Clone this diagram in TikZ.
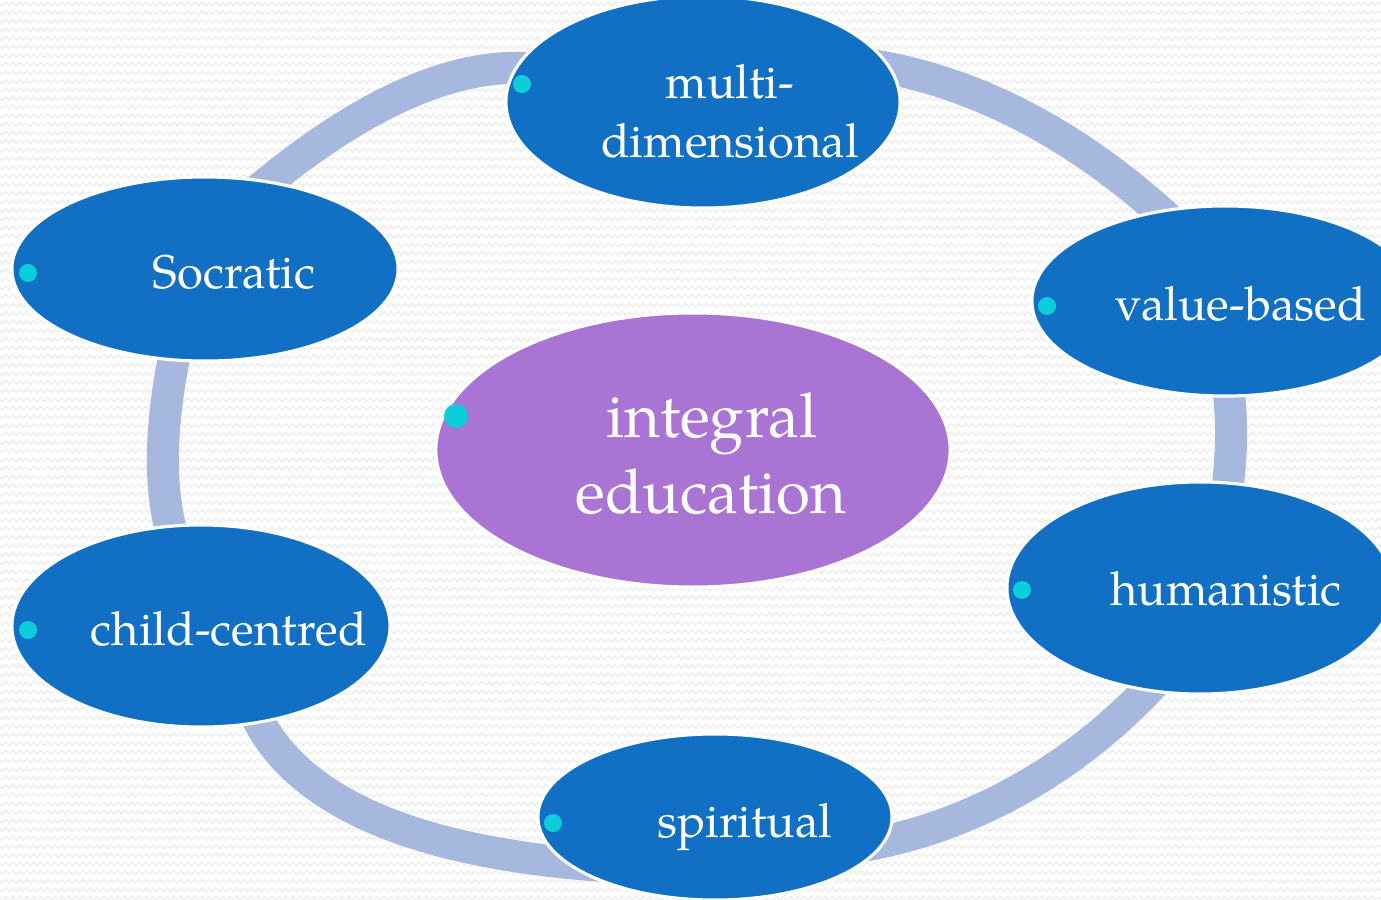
\documentclass[tikz,border=0pt]{standalone}
\usepackage{fontspec}
\setmainfont{TeX Gyre Pagella}
\usetikzlibrary{shapes.geometric,decorations.pathmorphing}
\definecolor{ringc}{HTML}{A7B8DE}
\definecolor{nodeblue}{HTML}{1170C4}
\definecolor{nodepurple}{HTML}{A974D4}
\definecolor{bulletc}{HTML}{0CCDD9}
\definecolor{bgline}{HTML}{EFEFEF}
% quadratic arc: A(#1,#2) Q(#3,#4) B(#5,#6), parameter from #7 to #8
\newcommand{\ringarc}[8]{%
  \draw[ring] plot[domain=#7:#8, samples=60, variable=\t]
    ({(1-(\t))^2*#1+2*(\t)*(1-(\t))*#3+(\t)^2*#5},
     {(1-(\t))^2*#2+2*(\t)*(1-(\t))*#4+(\t)^2*#6});}
\begin{document}
\begin{tikzpicture}[x=0.01cm,y=-0.01cm,
  blob/.style={ellipse, draw=white, line width=0.9pt, fill=nodeblue, inner sep=0pt},
  hub/.style={blob, fill=nodepurple},
  lbl/.style={text=white, inner sep=0pt, anchor=base, font=\fontsize{13.4}{16}\selectfont},
  hublbl/.style={lbl, font=\fontsize{17.6}{21}\selectfont},
  dot/.style={circle, fill=bulletc, inner sep=0pt, minimum size=0.18cm},
  bigdot/.style={dot, minimum size=0.24cm},
  ring/.style={draw=ringc, line width=0.32cm},
  zz/.style={draw=bgline, line width=0.45pt, decorate,
    decoration={zigzag, segment length=0.07cm, amplitude=0.018cm}}]
\useasboundingbox (0,0) rectangle (1381,900);
\clip (0,0) rectangle (1381,900);
\fill[white] (0,0) rectangle (1381,900);
\foreach \r in {0,...,105} \path[zz] (-10,{\r*8.6+4}) -- (1391,{\r*8.6+4});

% ring segments (drawn behind the nodes)
\ringarc{273}{178}{404}{73}{507}{68}{-0.12}{1.25}
\ringarc{893}{69}{1030}{98}{1155}{207}{-0.25}{1.2}
\ringarc{1228}{385}{1235}{437.5}{1226}{500}{-0.3}{1.3}
\coordinate (hsA) at (1190,640);
\coordinate (hsB) at (1118,736);
\coordinate (hsC) at (1000,825.5);
\coordinate (hsD) at (850,848);
\draw[ring] (hsA) .. controls (hsB) and (hsC) .. (hsD);
\ringarc{542}{860}{324}{832.5}{262}{727}{-0.2}{1.2}
\ringarc{169}{522}{155}{457.5}{173}{363}{-0.2}{1.2}

% nodes
\node[blob, minimum width=3.94cm, minimum height=2.12cm] (multi) at (703,102) {};
\node[blob, minimum width=3.86cm, minimum height=1.84cm] (socr) at (205,269) {};
\node[blob, minimum width=3.86cm, minimum height=1.90cm] (value) at (1225,301) {};
\node[blob, minimum width=3.86cm, minimum height=2.12cm] (human) at (1200,588) {};
\node[blob, minimum width=3.78cm, minimum height=2.02cm] (child) at (201,626) {};
\node[blob, minimum width=3.54cm, minimum height=1.66cm] (spirit) at (715,817) {};
\node[hub, minimum width=5.14cm, minimum height=2.74cm] (integral) at (693,450) {};

% bullets
\node[dot] (multidot) at (522,84) {};
\node[dot] (socrdot) at (28,273) {};
\node[dot] (valuedot) at (1047,306) {};
\node[dot] (humandot) at (1022,590) {};
\node[dot] (childdot) at (28,630) {};
\node[dot] (spiritdot) at (553,823) {};
\node[bigdot] (integraldot) at (456,416) {};

% labels
\node[lbl] (multit1) at (730,98) {multi-};
\node[lbl] (multit2) at (730,157) {dimensional};
\node[lbl] (socrt) at (234,288) {Socratic};
\node[lbl] (valuet) at (1241,320) {value-based};
\node[lbl] (humant) at (1226,605) {humanistic};
\node[lbl] (childt) at (229,645) {child-centred};
\node[lbl] (spiritt) at (745,837) {spiritual};
\node[hublbl] (integralt1) at (712,437) {integral};
\node[hublbl] (integralt2) at (711,513) {education};
\end{tikzpicture}
\end{document}
